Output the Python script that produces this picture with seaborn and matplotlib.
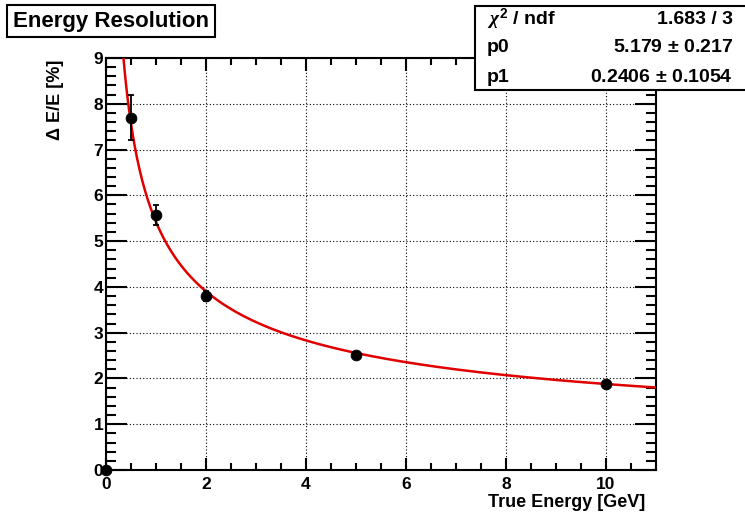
import numpy as np
import pandas as pd
import matplotlib
matplotlib.use("Agg")
import matplotlib.pyplot as plt
from matplotlib.ticker import MultipleLocator
import seaborn as sns

# measured points
energy = [0.0, 0.5, 1.0, 2.0, 5.0, 10.0]
resolution = [0.0, 7.70, 5.57, 3.80, 2.51, 1.88]
res_err = [0.0, 0.50, 0.22, 0.11, 0.05, 0.05]

# fit result (p0/sqrt(E) + p1)
p0, p0_err = 5.179, 0.217
p1, p1_err = 0.2406, 0.1054
chi2, ndf = 1.683, 3

sns.set_style("white")
plt.rcParams["font.family"] = ["Liberation Sans", "DejaVu Sans"]
plt.rcParams["font.weight"] = "bold"
plt.rcParams["mathtext.fontset"] = "custom"
plt.rcParams["mathtext.it"] = "Liberation Serif:italic"
plt.rcParams["mathtext.rm"] = "Liberation Sans:bold"
for key in ["text.color", "axes.labelcolor", "xtick.color", "ytick.color"]:
    plt.rcParams[key] = "black"

fig = plt.figure(figsize=(7.45, 5.16), dpi=100)
ax = fig.add_axes([106 / 745, 46 / 516, 550 / 745, 412 / 516])

e_fit = np.linspace(0.3, 11, 400)
fit = pd.DataFrame({"E": e_fit, "res": p0 / np.sqrt(e_fit) + p1})
sns.lineplot(data=fit, x="E", y="res", color="#e00000", lw=1.8, ax=ax, zorder=3)

pts = pd.DataFrame({"E": energy, "res": resolution, "err": res_err})
ax.errorbar(pts["E"], pts["res"], yerr=pts["err"], fmt="none", ecolor="black",
            elinewidth=1.3, capsize=2.5, capthick=1.3, zorder=4, clip_on=False)
sns.scatterplot(data=pts, x="E", y="res", color="black", s=60, edgecolor="black",
                ax=ax, zorder=5, clip_on=False)

ax.set_xlim(0, 11)
ax.set_ylim(0, 9)
ax.xaxis.set_major_locator(MultipleLocator(2))
ax.xaxis.set_minor_locator(MultipleLocator(0.5))
ax.yaxis.set_major_locator(MultipleLocator(1))
ax.yaxis.set_minor_locator(MultipleLocator(0.2))
ax.grid(True, which="major", color="black", ls=(0, (1, 2)), lw=0.8)
ax.tick_params(axis="x", which="major", direction="in", length=9, width=1.5,
               top=True, bottom=True, labelsize=12.5, pad=5)
ax.tick_params(axis="x", which="minor", direction="in", length=5, width=1.5,
               top=True, bottom=True)
ax.tick_params(axis="y", which="major", direction="in", length=15, width=1.5,
               left=True, right=True, labelsize=12.5, pad=2)
ax.tick_params(axis="y", which="minor", direction="in", length=7.5, width=1.5,
               left=True, right=True)
for sp in ax.spines.values():
    sp.set_linewidth(1.5)
    sp.set_color("black")
for lab in ax.get_xticklabels() + ax.get_yticklabels():
    lab.set_fontweight("bold")

ax.set_xlabel("True Energy [GeV]", fontsize=13, fontweight="bold", ha="right")
ax.xaxis.set_label_coords((645 - 106) / 550, -(494 - 470) / 412)
ax.set_ylabel("Δ E/E [%]", fontsize=13, fontweight="bold", ha="right")
ax.yaxis.set_label_coords(-(106 - 64) / 550, (470 - 60) / 412)

# title box
fig.text(13 / 745, 1 - 21 / 516, "Energy Resolution", fontsize=16, fontweight="bold",
         ha="left", va="center",
         bbox=dict(boxstyle="square,pad=0.25", fc="white", ec="black", lw=1.5))

# stats box
box = plt.Rectangle((475 / 745, 1 - 90 / 516), 0.5, 84 / 516, transform=fig.transFigure,
                    fc="white", ec="black", lw=1.5, zorder=10)
fig.add_artist(box)
rows = [(r"$\chi^{2}$ / ndf", f"{chi2:.3f} / {ndf}"),
        ("p0", f"{p0:.3f} $\\pm$ {p0_err:.3f}"),
        ("p1", f"{p1:.4f} $\\pm$ {p1_err:.4f}")]
for i, (name, val) in enumerate(rows):
    y = 1 - (19 + i * 29) / 516
    fig.text(487 / 745, y, name, fontsize=14, fontweight="bold", ha="left", va="center", zorder=11)
    fig.text(733 / 745, y, val, fontsize=14, fontweight="bold", ha="right", va="center", zorder=11)

fig.savefig("out.png", dpi=100)
